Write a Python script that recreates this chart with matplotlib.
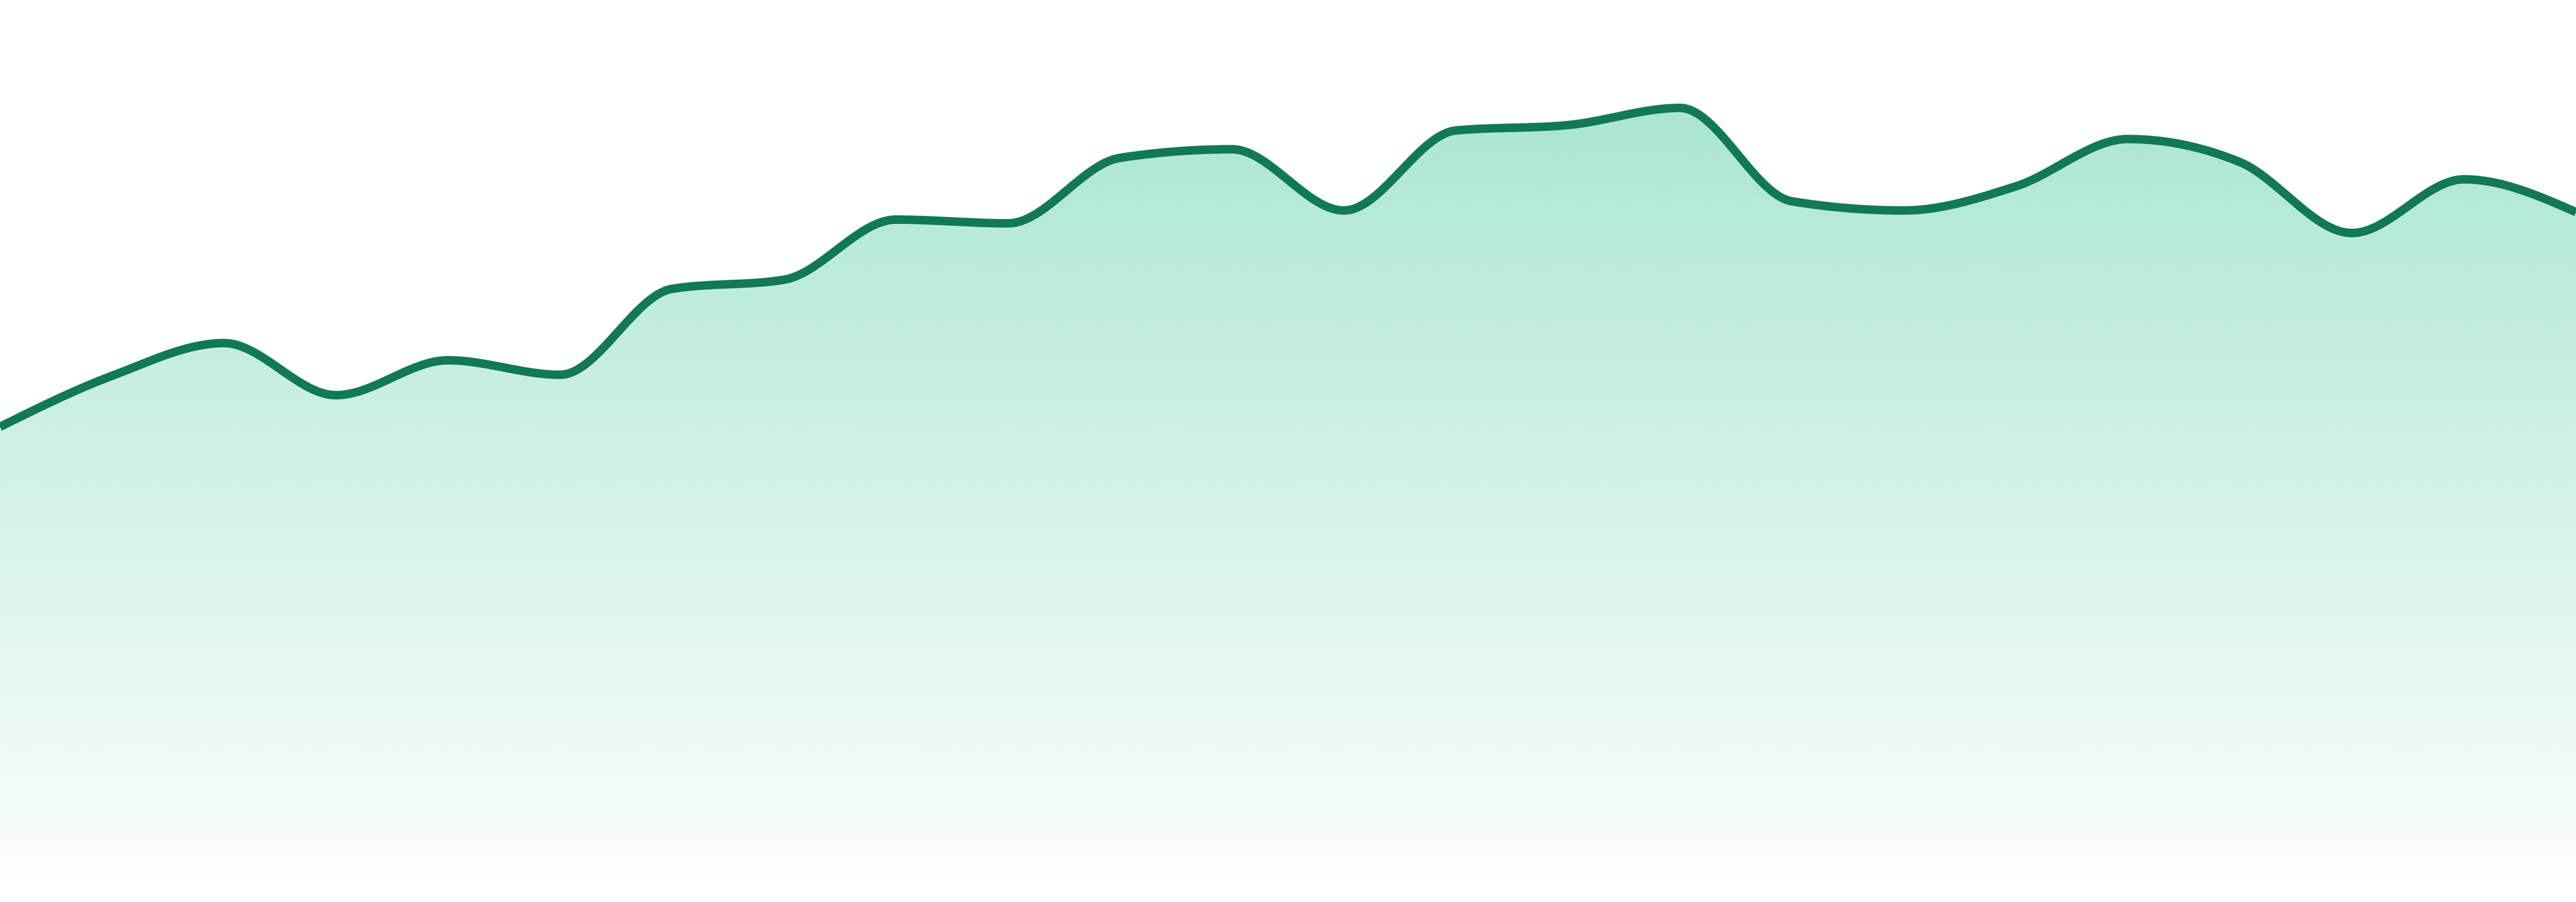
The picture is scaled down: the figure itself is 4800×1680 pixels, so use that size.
import numpy as np
import matplotlib
matplotlib.use("Agg")
import matplotlib.pyplot as plt
from matplotlib.patches import Polygon

# Series values, one per evenly spaced step
steps = list(range(24))
values = [83.7, 93.2, 99.3, 89.6, 96.1, 93.4, 109.4, 111.1, 122.3, 121.6,
          133.8, 135.4, 124.0, 138.9, 139.9, 143.1, 125.7, 124.0, 128.5,
          137.3, 133.0, 119.8, 129.8, 123.7]

line_color = "#117a52"
fill_rgb = (16 / 255, 185 / 255, 129 / 255)
y_top = 163.2


def monotone_x(x, y, n=40):
    # monotone cubic (Steffen) through the points, like d3.curveMonotoneX
    x = np.asarray(x, float)
    y = np.asarray(y, float)
    h = np.diff(x)
    s = np.diff(y) / h
    m = np.zeros_like(y)
    for i in range(1, len(y) - 1):
        p = (s[i - 1] * h[i] + s[i] * h[i - 1]) / (h[i - 1] + h[i])
        m[i] = (np.sign(s[i - 1]) + np.sign(s[i])) * min(abs(s[i - 1]), abs(s[i]), 0.5 * abs(p))
    m[0] = (3 * s[0] - m[1]) / 2 if len(y) > 2 else s[0]
    m[-1] = (3 * s[-1] - m[-2]) / 2 if len(y) > 2 else s[-1]
    xs, ys = [], []
    for i in range(len(x) - 1):
        t = np.linspace(0, 1, n, endpoint=False)
        h00 = 2 * t**3 - 3 * t**2 + 1
        h10 = t**3 - 2 * t**2 + t
        h01 = -2 * t**3 + 3 * t**2
        h11 = t**3 - t**2
        xs.append(x[i] + t * h[i])
        ys.append(h00 * y[i] + h10 * h[i] * m[i] + h01 * y[i + 1] + h11 * h[i] * m[i + 1])
    xs.append([x[-1]])
    ys.append([y[-1]])
    return np.concatenate(xs), np.concatenate(ys)


xs, ys = monotone_x(steps, values)

fig = plt.figure(figsize=(16, 5.6), dpi=300)
ax = fig.add_axes([0, 48 / 1680, 1, 1632 / 1680])
ax.set_xlim(steps[0], steps[-1])
ax.set_ylim(0, y_top)
ax.axis("off")

# vertical gradient fill under the curve
grad = np.linspace(0.40, 0.017, 256).reshape(-1, 1)
img = np.zeros((256, 1, 4))
img[..., 0], img[..., 1], img[..., 2] = fill_rgb
img[..., 3] = grad
im = ax.imshow(img, extent=[steps[0], steps[-1], 0, y_top], origin="upper",
               aspect="auto", interpolation="bilinear", zorder=1)
poly = Polygon(np.column_stack([np.r_[xs, xs[-1], xs[0]], np.r_[ys, 0, 0]]),
               closed=True, facecolor="none", edgecolor="none")
ax.add_patch(poly)
im.set_clip_path(poly)

ax.plot(xs, ys, color=line_color, linewidth=3.8, solid_capstyle="butt",
        solid_joinstyle="round", zorder=3)

fig.savefig("out.png", dpi=300, facecolor="white")
